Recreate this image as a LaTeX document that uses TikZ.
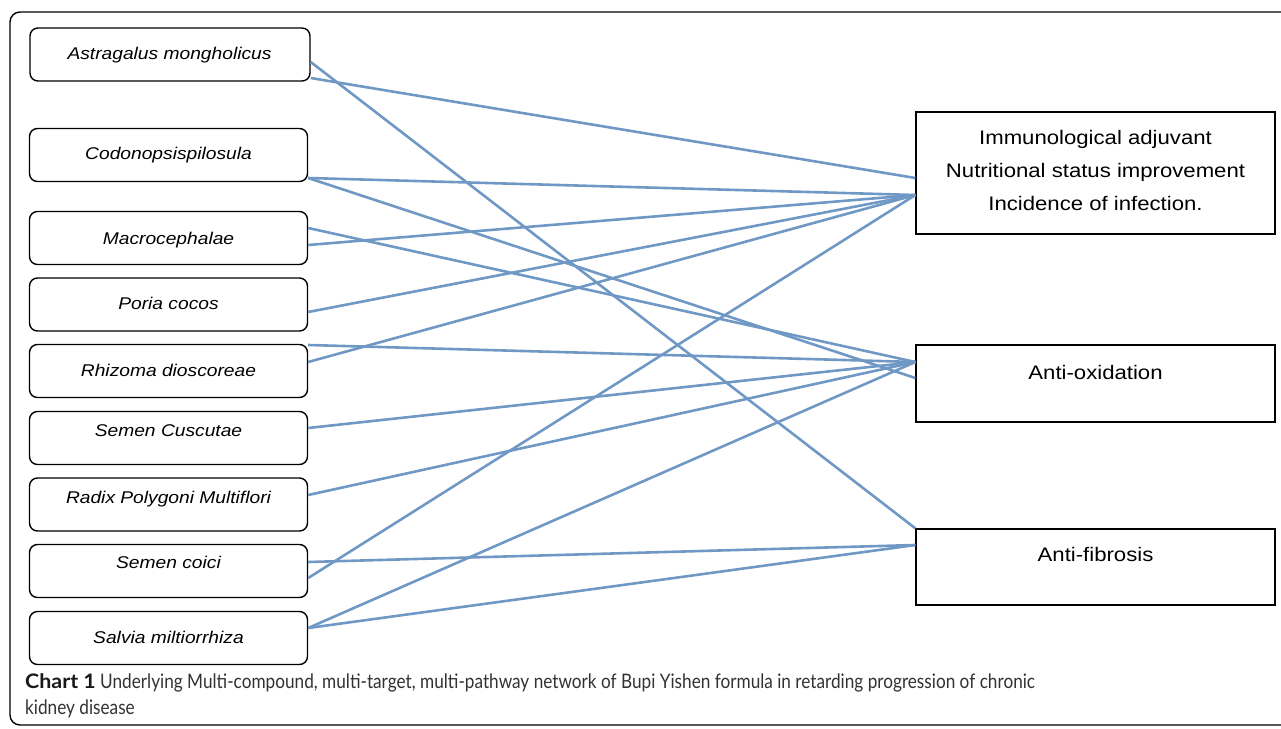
\documentclass[tikz,border=0pt]{standalone}
\usepackage{fontspec}
\setmainfont[FakeStretch=1.13]{Liberation Sans}
\newfontfamily\capfont[FakeStretch=0.86]{Lato}
\newfontfamily\capboldfont[FakeStretch=1.07]{Lato}
\usetikzlibrary{calc}
\definecolor{edgeblue}{RGB}{112,152,196}
\definecolor{captext}{RGB}{50,50,50}
\tikzset{
  herb/.style={draw=black, line width=1.4pt, rounded corners=8pt, minimum width=278pt, minimum height=53pt, inner sep=0pt},
  herbtext/.style={font=\itshape\fontsize{17}{20}\selectfont, inner sep=0pt, text height=12.5pt, text depth=3.5pt},
  effect/.style={draw=black, line width=1.3pt, minimum width=359pt, inner sep=0pt},
  efftext/.style={font=\fontsize{19.6}{33}\selectfont, inner sep=0pt, align=center},
  link/.style={draw=edgeblue, line width=2.6pt}
}
\begin{document}
\begin{tikzpicture}[x=1pt,y=-1pt]
\useasboundingbox (0,0) rectangle (1281,728);
\clip (0,0) rectangle (1281,728);
\draw[line width=1.4pt, rounded corners=10pt] (10,12) rectangle (1300,725);

% herb boxes
\node[herb, minimum width=280pt] (ast) at (170,54.5) {};
\node[herb] (cod) at (168.5,155) {};
\node[herb] (mac) at (168.5,238) {};
\node[herb] (por) at (168.5,304.5) {};
\node[herb] (rhi) at (168.5,371) {};
\node[herb] (cus) at (168.5,438) {};
\node[herb] (rad) at (168.5,504.5) {};
\node[herb] (coi) at (168.5,571) {};
\node[herb] (sal) at (168.5,638) {};

\node[herbtext] (tast) at (169.5,55) {Astragalus mongholicus};
\node[herbtext] (tcod) at (168.5,155) {Codonopsispilosula};
\node[herbtext] (tmac) at (168.5,240) {Macrocephalae};
\node[herbtext] (tpor) at (168.5,305) {Poria cocos};
\node[herbtext] (trhi) at (168.5,372) {Rhizoma dioscoreae};
\node[herbtext] (tcus) at (168.5,432) {Semen Cuscutae};
\node[herbtext] (trad) at (168.5,499) {Radix Polygoni Multiflori};
\node[herbtext] (tcoi) at (168.5,564) {Semen coici};
\node[herbtext] (tsal) at (168.5,639) {Salvia miltiorrhiza};

% effect boxes
\node[effect, minimum height=122pt] (imm) at (1095.5,173) {};
\node[effect, minimum height=77pt] (ox) at (1095.5,383.5) {};
\node[effect, minimum height=76pt] (fib) at (1095.5,567) {};

\node[efftext] (timm) at (1095.5,170) {Immunological adjuvant\\Nutritional status improvement\\Incidence of infection.};
\node[efftext] (tox) at (1095.5,372) {Anti-oxidation};
\node[efftext] (tfib) at (1095.5,554) {Anti-fibrosis};

% links
\draw[link] ([yshift=-7.5pt]ast.east) -- (fib.north west);
\draw[link] ([yshift=-23.5pt]ast.east) -- ([yshift=-5pt]imm.west);
\draw[link] ([yshift=-23pt]cod.east) -- ([yshift=-22pt]imm.west);
\draw[link] ([yshift=-23pt]cod.east) -- ([yshift=5.5pt]ox.west);
\draw[link] ([yshift=10pt]mac.east) -- ([yshift=21.5pt]ox.west);
\draw[link] ([yshift=-7pt]mac.east) -- ([yshift=-22pt]imm.west);
\draw[link] ([yshift=-7.5pt]por.east) -- ([yshift=-22pt]imm.west);
\draw[link] ([yshift=26pt]rhi.east) -- ([yshift=21.5pt]ox.west);
\draw[link] ([yshift=9pt]rhi.east) -- ([yshift=-22pt]imm.west);
\draw[link] ([yshift=10pt]cus.east) -- ([yshift=21.5pt]ox.west);
\draw[link] ([yshift=9.5pt]rad.east) -- ([yshift=21.5pt]ox.west);
\draw[link] ([yshift=9pt]coi.east) -- ([yshift=22pt]fib.west);
\draw[link] ([yshift=-7pt]coi.east) -- ([yshift=-22pt]imm.west);
\draw[link] ([yshift=10pt]sal.east) -- ([yshift=21.5pt]ox.west);
\draw[link] ([yshift=10pt]sal.east) -- ([yshift=22pt]fib.west);

% caption
\node[anchor=west, inner sep=0pt, text=captext, font=\capfont\fontsize{20}{25.5}\selectfont, align=left] (cap) at (25,696)
  {{\capboldfont\bfseries\color{black!90}Chart 1} Underlying Multi-compound, multi-target, multi-pathway network of Bupi Yishen formula in retarding progression of chronic\\kidney disease};
\end{tikzpicture}
\end{document}
